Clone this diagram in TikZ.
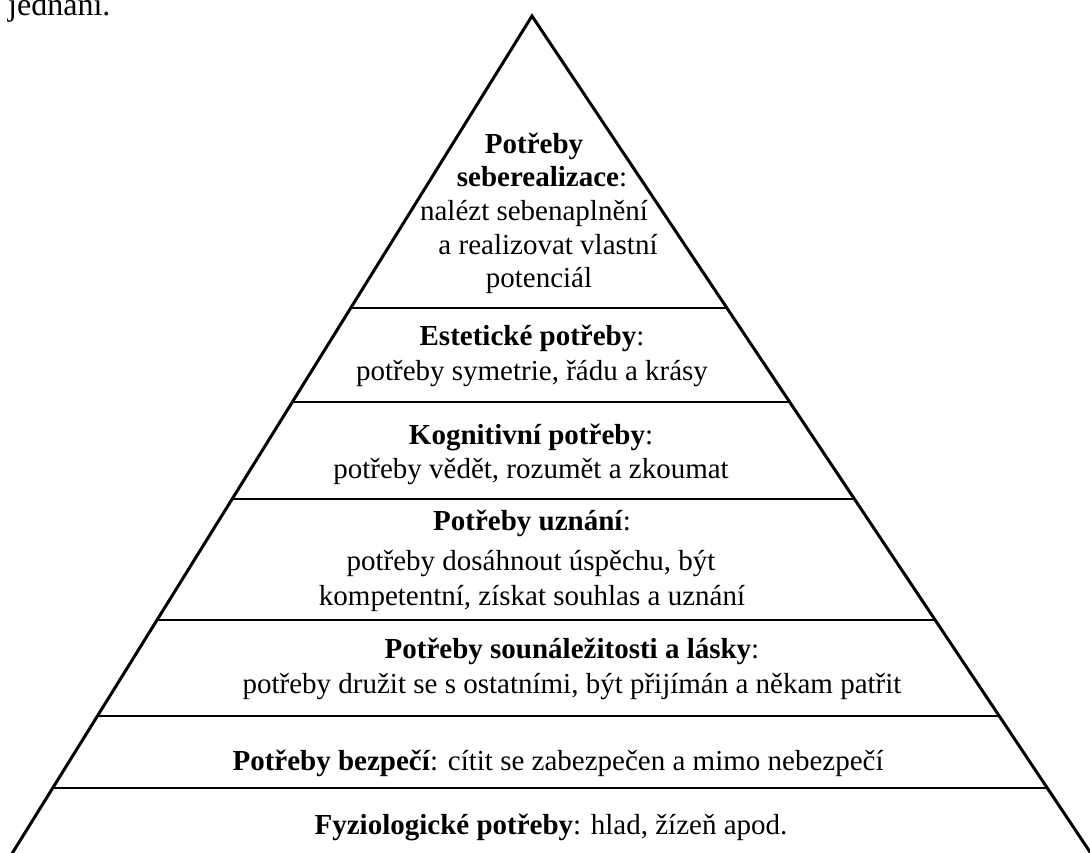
\documentclass[tikz,border=0pt]{standalone}
\usepackage{fontspec}
\setmainfont{Liberation Serif}
\usetikzlibrary{calc}
\tikzset{
  edge/.style={line width=3pt, line cap=round, line join=miter},
  tier/.style={line width=2pt},
  lbl/.style={anchor=base, inner sep=0pt, font=\fontsize{29}{33}\selectfont},
}
\begin{document}
\begin{tikzpicture}[x=1pt, y=-1pt]
  \useasboundingbox (0,0) rectangle (1090,852);
  \clip (0,0) rectangle (1090,852);
  % outline of the pyramid
  \coordinate (A) at (532,16);
  \coordinate (BL) at (13,852);
  \coordinate (BR) at (1090,852);
  \draw[edge] ($(A)!1.03!(BL)$) -- (A) -- ($(A)!1.03!(BR)$);
  % tier boundaries (fractions of the height from the apex)
  \foreach \t in {0.3493,0.4617,0.5778,0.7225,0.8373,0.9234}
    \draw[tier] ($(A)!\t!(BL)$) -- ($(A)!\t!(BR)$);
  % preceding paragraph, cut at the top edge
  \node[anchor=base west, inner sep=0pt, font=\fontsize{32}{36}\selectfont] (prev) at (8,15) {jednání.};
  % self-actualisation
  \node[lbl] (s1) at (534,153) {\textbf{Potřeby}};
  \node[lbl] (s2) at (542,186) {\textbf{seberealizace}:};
  \node[lbl] (s3) at (534,220) {nalézt sebenaplnění};
  \node[lbl] (s4) at (548,254) {a realizovat vlastní};
  \node[lbl] (s5) at (539,287) {potenciál};
  % aesthetic
  \node[lbl] (e1) at (532,345) {\textbf{Estetické potřeby}:};
  \node[lbl] (e2) at (532,380) {potřeby symetrie, řádu a krásy};
  % cognitive
  \node[lbl] (k1) at (531,444) {\textbf{Kognitivní potřeby}:};
  \node[lbl] (k2) at (531,478) {potřeby vědět, rozumět a zkoumat};
  % esteem
  \node[lbl] (u1) at (532,530) {\textbf{Potřeby uznání}:};
  \node[lbl] (u2) at (531,570) {potřeby dosáhnout úspěchu, být};
  \node[lbl] (u3) at (532,605) {kompetentní, získat souhlas a uznání};
  % belonging
  \node[lbl] (l1) at (572,658) {\textbf{Potřeby sounáležitosti a lásky}:};
  \node[lbl] (l2) at (572,693) {potřeby družit se s ostatními, být přijímán a někam patřit};
  % safety
  \node[lbl] (b1) at (558,770) {\textbf{Potřeby bezpečí}: cítit se zabezpečen a mimo nebezpečí};
  % physiological
  \node[lbl] (f1) at (551,834) {\textbf{Fyziologické potřeby}: hlad, žízeň apod.};
\end{tikzpicture}
\end{document}
